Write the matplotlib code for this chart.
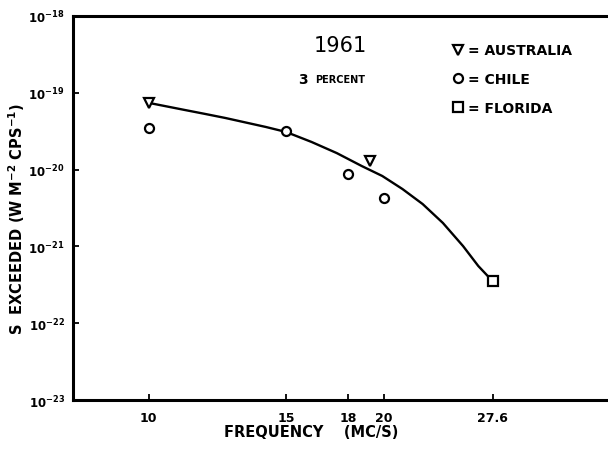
import matplotlib.pyplot as plt
from matplotlib.ticker import FixedLocator, NullLocator

plt.rcParams["font.family"] = "DejaVu Sans"
plt.rcParams["font.weight"] = "bold"
plt.rcParams["mathtext.default"] = "bf"

aus_f = [10, 19.2]
aus_s = [7.4e-20, 1.3e-20]
chile_f = [10, 15, 18, 20]
chile_s = [3.5e-20, 3.2e-20, 8.8e-21, 4.3e-21]
flo_f = [27.6]
flo_s = [3.5e-22]

# hand drawn fit curve
fit_f = [10.0, 11.13, 11.82, 12.54, 14.13, 15.0, 16.17, 17.42, 18.76,
         19.92, 21.14, 22.44, 23.82, 25.28, 26.44, 27.6]
fit_s = [7.4e-20, 5.97e-20, 5.30e-20, 4.70e-20, 3.59e-20, 3.09e-20,
         2.29e-20, 1.64e-20, 1.11e-20, 8.26e-21, 5.59e-21, 3.56e-21,
         2.02e-21, 1.01e-21, 5.56e-22, 3.5e-22]

xticks = [10, 15, 18, 20, 27.6]
xticklabels = ['10', '15', '18', '20', '27.6']
yticks = [1e-23, 1e-22, 1e-21, 1e-20, 1e-19, 1e-18]
yticklabels = [r'$10^{-23}$', r'$10^{-22}$', r'$10^{-21}$',
               r'$10^{-20}$', r'$10^{-19}$', r'$10^{-18}$']

fig = plt.figure(figsize=(6.08, 4.52), dpi=100)
ax = fig.add_axes([0.120, 0.1128, 0.8975, 0.8496])

ax.plot(fit_f, fit_s, color='black', lw=1.7, solid_joinstyle='round')
ax.plot(aus_f, aus_s, 'v', ms=7, mfc='white', mec='black', mew=1.6,
        ls='none', label='= AUSTRALIA')
ax.plot(chile_f, chile_s, 'o', ms=6.5, mfc='white', mec='black', mew=1.6,
        ls='none', label='= CHILE')
ax.plot(flo_f, flo_s, 's', ms=6.5, mfc='white', mec='black', mew=1.6,
        ls='none', label='= FLORIDA')

ax.set_xscale('log')
ax.set_yscale('log')
ax.set_xlim(8, 40)
ax.set_ylim(1e-23, 1e-18)

ax.xaxis.set_major_locator(FixedLocator(xticks))
ax.xaxis.set_minor_locator(NullLocator())
ax.set_xticklabels(xticklabels, fontsize=9, fontweight='bold')
ax.yaxis.set_major_locator(FixedLocator(yticks))
ax.yaxis.set_minor_locator(NullLocator())
ax.set_yticklabels(yticklabels, fontsize=8.5)

ax.tick_params(axis='both', direction='in', length=4, width=1.3)
ax.tick_params(axis='y', right=True, pad=6)
ax.tick_params(axis='x', pad=8)

for side in ['left', 'bottom', 'top', 'right']:
    ax.spines[side].set_linewidth(2.2)

ax.set_ylabel(r'S  EXCEEDED (W M$^{-2}$ CPS$^{-1}$)', fontsize=10.5,
              fontweight='bold')
ax.yaxis.set_label_coords(-0.085, 0.474)
fig.text(0.512, 0.033, 'FREQUENCY    (MC/S)', fontsize=10.5,
         fontweight='bold', ha='center')

ax.text(0.49, 0.925, '1961', transform=ax.transAxes, fontsize=15,
        fontweight='normal', ha='center', va='center')
ax.text(0.413, 0.837, '3', transform=ax.transAxes, fontsize=10,
        ha='left', va='center')
ax.text(0.443, 0.837, 'PERCENT', transform=ax.transAxes, fontsize=7,
        ha='left', va='center')

leg = ax.legend(loc='upper left', bbox_to_anchor=(0.685, 0.943),
                frameon=False, handlelength=0.8, handletextpad=0.3,
                labelspacing=1.05, borderaxespad=0,
                prop={'size': 10, 'weight': 'bold'})

fig.savefig('out.png', dpi=100)
